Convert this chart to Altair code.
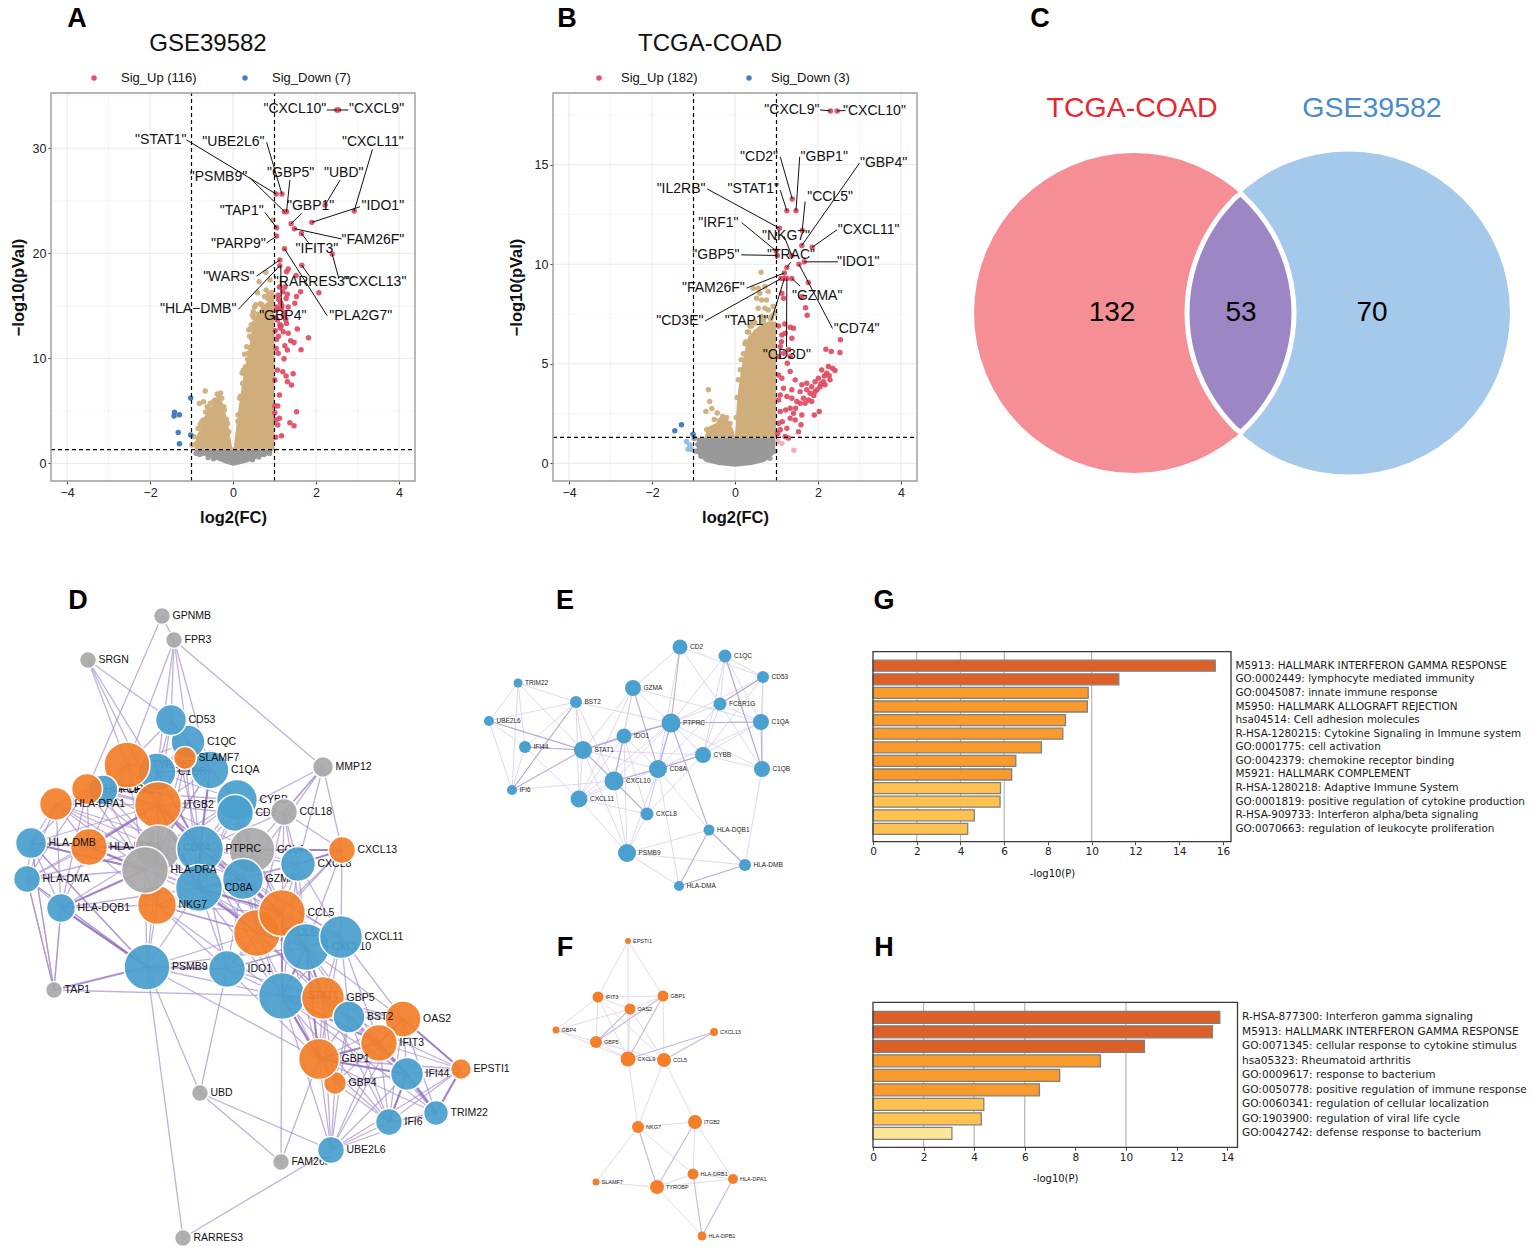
import altair as alt
import pandas as pd

W, H = 1519, 1239
SANS = "Liberation Sans"
MPL = "DejaVu Sans"
RED, BLUE, TAN, GREY = "#E04A62", "#3D77BC", "#CFAE7B", "#999999"
PALE_RED, PALE_BLUE = "#F5A9B5", "#8DBBE8"
BLUE_N, ORANGE_N, GREY_N = "#4AA0CE", "#F47F2B", "#A9A9A9"

# ---------- Panel A values
a_red_x = [2.54,2.50,1.04,1.18,1.29,1.24,2.22,2.92,1.90,1.40,1.05,1.48,1.65,1.05,1.24,2.39,1.66,1.13,1.13,1.17,
 1.33,1.29,1.52,1.63,2.07,1.12,1.25,1.20,1.31,1.09,1.53,1.28,1.15,1.49,1.33,1.05,1.25,1.07,1.29,1.13,1.55,1.02,1.21,1.33,
 1.05,1.82,1.39,1.47,1.31,1.04,1.09,1.64,1.23,1.07,1.20,1.45,1.28,1.01,1.31,1.41,1.12,1.01,1.08,1.53,1.01,1.12,1.04,1.37,1.47,1.17,1.03,1.08,
 1.10,1.18,1.22,1.27,1.03,1.16,1.10,1.25,1.06,1.14]
a_red_y = [33.65,33.65,25.65,25.65,23.97,23.97,24.6,24.03,22.95,22.83,22.44,22.35,21.9,21.65,20.44,19.94,18.86,19.37,18.83,14.76,
 18.5,18.25,17.9,16.35,16.25,16.8,16.8,16.35,16.1,16.0,15.9,15.7,15.3,15.24,14.9,14.6,14.35,13.65,13.33,13.2,12.8,12.63,12.54,12.38,
 11.8,11.97,11.68,11.52,10.8,10.95,10.48,10.83,9.97,8.89,8.73,8.54,8.32,7.94,7.78,7.46,6.51,5.46,5.46,4.92,4.83,4.29,4.13,3.87,3.59,2.63,2.48,3.65,
 15.6,15.0,14.0,13.7,13.9,13.1,12.1,11.2,14.9,12.9]
a_blue_x = [-1.02,-1.41,-1.42,-1.29,-1.32,-1.02,-1.29]
a_blue_y = [6.22,4.86,4.51,4.63,2.95,2.7,1.87]
a_tan_x = [-0.67,-0.81,-0.71,-0.34,-0.27,-0.43,-0.59,-0.51,-0.71,-0.84,-0.94,-0.88,-0.99,-0.21,0.96,0.79,0.63,0.89,0.80,0.59,0.93,0.49,0.27,0.37,0.45,0.65,
 0.35,0.42,0.52,0.60,0.72,0.84,0.93,0.97,0.30,0.40,0.50,0.70,0.23,0.18,0.12,-0.62,-0.75,-0.55,-0.38,-0.16,-0.10,
 0.33,0.38,0.44,0.28,0.22,0.16,0.55,0.47,0.41,0.31,0.25,0.12,0.66,0.76,0.86,0.52,-0.79,-0.66,-0.47,-0.30,-0.22,-0.13]
a_tan_y = [6.89,5.71,5.87,6.41,6.19,6.03,5.24,4.92,4.13,3.33,2.54,1.9,1.75,5.08,23.17,18.19,17.3,17.46,16.5,16.25,15.7,14.44,8.57,10.48,11.9,13.65,
 9.9,11.0,13.4,14.2,14.9,15.7,16.3,15.9,9.2,12.1,13.9,15.1,7.6,6.4,4.6,5.4,4.0,5.7,6.6,4.2,3.0,
 11.1,12.7,13.2,10.4,8.6,6.2,15.1,14.1,12.8,9.0,8.9,4.0,15.2,15.9,16.1,14.9,3.7,4.9,5.9,6.7,5.4,3.8]
a_tan_env_x = [-0.93,-0.88,-0.8,-0.7,-0.6,-0.5,-0.4,-0.33,-0.25,-0.18,-0.12,-0.07,-0.02,0.02,0.05,0.09,0.14,0.2,0.26,0.33,0.41,0.46,0.55,0.65,0.8,0.93,1.0]
a_tan_env_y = [1.5,2.6,3.2,4.4,5.0,5.5,6.2,6.4,5.8,4.8,3.8,2.6,1.5,1.5,2.6,3.8,5.4,7.0,8.5,9.8,11.5,13.0,13.9,14.6,15.3,15.8,16.0]
a_grey_env_x = [-0.92,-0.7,-0.4,-0.2,0.0,0.15,0.35,0.6,0.9,0.96]
a_grey_env_y = [1.1,0.8,0.35,0.0,-0.22,-0.1,0.1,0.5,0.9,1.2]
a_grey_x = [-0.89,-0.8,-0.72,-0.6,-0.47,0.47,0.62,0.75,0.88]
a_grey_y = [0.95,0.85,0.95,0.55,0.45,0.35,0.6,0.85,0.95]
a_lab = ['"CXCL10"','"CXCL9"','"STAT1"','"UBE2L6"','"CXCL11"','"GBP5"','"UBD"','"PSMB9"','"GBP1"','"IDO1"','"TAP1"','"FAM26F"','"PARP9"','"IFIT3"','"WARS"','"RARRES3"','"CXCL13"','"HLA−DMB"','"GBP4"','"PLA2G7"']
a_lab_x = [1.49,3.46,-1.74,0.01,3.37,1.39,2.67,-0.35,1.87,3.61,0.21,3.37,0.13,2.02,-0.1,1.9,3.42,-0.84,1.2,3.08]
a_lab_y = [33.7,33.7,30.8,30.57,30.57,27.62,27.62,27.24,24.48,24.48,24.06,21.3,20.92,20.38,17.75,17.24,17.24,14.67,14.06,14.06]
a_seg_x  = [2.26,2.78,-1.12,0.81,3.36,1.37,2.58,0.39,1.65,3.06,0.77,2.62,0.81,1.82,0.57,1.84,2.55,0.13,1.17,2.27]
a_seg_y  = [33.65,33.65,30.8,30.57,29.9,26.98,26.98,27.24,23.8,24.44,23.9,21.37,21.0,21.0,17.84,17.84,17.62,14.67,14.76,14.06]
a_seg_x2 = [2.5,2.54,1.04,1.18,2.92,1.29,2.22,1.24,1.40,1.90,1.05,1.48,1.05,1.65,1.13,1.66,2.39,1.13,1.15,1.24]
a_seg_y2 = [33.65,33.65,25.65,25.65,24.03,23.97,24.6,23.97,22.83,22.95,22.44,22.35,21.65,21.9,19.37,18.86,19.94,18.83,18.83,20.44]

# ---------- Panel B values
b_red_x = [2.30,2.46,1.38,1.47,1.25,1.07,1.62,1.61,1.86,0.99,1.02,1.37,1.67,1.54,1.25,1.19,1.11,1.19,1.25,1.37,
 1.77,1.13,1.17,1.61,1.70,1.74,1.05,1.33,1.41,1.21,1.37,1.13,2.54,2.19,2.32,2.53,1.09,1.29,1.17,1.05,1.33,1.26,1.33,1.05,1.13,1.45,
 2.25,2.35,2.41,2.09,2.21,2.15,2.01,2.29,2.13,1.93,1.73,1.61,1.85,2.05,2.17,1.73,1.57,1.81,1.93,1.37,1.17,1.09,1.25,1.37,1.65,1.77,1.49,1.85,1.57,1.69,1.05,
 1.33,1.46,1.22,1.41,2.03,1.91,1.61,1.09,1.33,1.45,1.14,1.05,1.59,1.25,1.09,1.53,1.21,1.29,1.03,1.12,1.20,1.90,1.98,2.27,2.07]
b_red_y = [17.7,17.7,13.28,12.68,12.68,11.81,11.69,10.94,10.85,10.67,10.44,10.44,10.12,10.0,9.83,9.56,9.28,9.28,9.28,9.28,
 9.08,8.54,8.29,8.38,7.81,7.44,6.9,6.83,6.78,6.53,6.28,6.45,6.2,5.73,5.61,5.56,5.86,5.7,5.53,5.36,5.36,5.03,4.61,4.44,4.27,4.19,
 4.86,4.77,4.66,4.69,4.52,4.39,4.27,4.19,4.1,4.1,4.02,3.94,3.85,3.85,3.94,3.69,3.6,3.52,3.6,3.69,3.77,3.43,3.35,3.27,3.27,3.18,3.1,3.1,3.02,3.02,3.18,
 2.76,2.76,2.68,2.51,2.6,2.43,2.43,2.6,2.26,2.18,2.09,2.01,1.93,1.76,1.68,1.59,1.34,1.27,1.5,6.1,7.0,3.4,3.7,4.4,4.0]
b_pale_red_x = [1.13,1.03,1.42]
b_pale_red_y = [1.0,1.09,0.65]
b_blue_x = [-1.29,-1.45,-1.01]
b_blue_y = [1.93,1.64,1.46]
b_pale_blue_x = [-1.17,-1.09,-1.13,-1.05]
b_pale_blue_y = [1.09,0.92,0.7,0.7]
b_tan_x = [0.63,0.44,0.56,0.72,0.80,0.60,0.52,0.76,0.64,0.92,0.72,0.56,0.80,0.96,0.64,0.88,0.48,0.68,-0.64,-0.61,-0.70,-0.56,-0.43,-0.37,-0.30,-0.2,-0.5,-0.12,0.15,0.24,0.30,0.36,0.42,0.5,-0.68,
 0.26,0.20,0.13,0.08,0.33,0.40,0.47,0.70,0.86,0.35,0.05,0.03]
b_tan_y = [9.6,8.79,8.79,8.88,8.63,8.54,8.29,8.2,8.2,7.87,7.79,7.79,7.7,7.54,7.37,7.37,7.04,7.12,3.69,3.1,2.6,2.75,2.53,2.15,2.35,2.3,2.2,2.0,5.2,6.0,6.6,6.9,7.05,6.6,1.7,
 6.1,5.5,4.7,4.2,6.6,6.9,7.1,7.3,7.25,5.9,3.3,2.3]
b_tan_env_x = [-0.74,-0.64,-0.48,-0.32,-0.16,-0.04,0.0,0.02,0.04,0.08,0.16,0.24,0.32,0.56,0.8,0.99]
b_tan_env_y = [1.3,1.84,2.0,2.26,2.18,1.68,1.34,2.0,2.85,3.69,4.86,5.7,6.37,6.87,7.12,7.12]
b_grey_env_x = [-0.92,-0.72,-0.4,0.0,0.4,0.72,0.97]
b_grey_env_y = [0.5,0.08,-0.08,-0.17,-0.08,0.08,0.5]
b_grey_x = [-0.98,-0.94,-0.9,-0.82,0.96,0.9,0.84]
b_grey_y = [1.25,0.6,0.95,0.35,0.6,0.95,0.25]
b_lab = ['"CXCL9"','"CXCL10"','"CD2"','"GBP1"','"GBP4"','"IL2RB"','"STAT1"','"CCL5"','"CXCL11"','"IRF1"','"NKG7"','"GBP5"','"TRAC"','"IDO1"','"FAM26F"','"GZMA"','"CD3E"','"TAP1"','"CD74"','"CD3D"']
b_lab_x = [1.37,3.36,0.58,2.15,3.58,-1.30,0.44,2.29,3.22,-0.40,1.23,-0.46,1.35,2.97,-0.52,1.98,-1.33,0.28,2.93,1.25]
b_lab_y = [17.76,17.72,15.4,15.4,15.08,13.78,13.78,13.4,11.73,12.09,11.44,10.44,10.44,10.12,8.79,8.41,7.15,7.15,6.77,5.44]
b_seg_x  = [2.05,2.66,1.09,1.56,3.0,-0.67,1.09,1.69,2.46,0.16,1.18,0.15,1.34,2.48,0.28,1.57,-0.72,0.88,2.35,1.24]
b_seg_y  = [17.75,17.72,15.4,15.4,15.08,13.78,13.72,13.15,11.73,12.09,11.4,10.47,10.1,10.12,8.8,8.9,7.15,7.2,6.77,5.85]
b_seg_x2 = [2.30,2.46,1.38,1.47,1.61,1.07,1.25,1.62,1.86,0.99,1.37,1.02,1.25,1.67,1.19,1.37,1.11,1.19,1.54,1.25]
b_seg_y2 = [17.7,17.7,13.28,12.68,10.94,11.81,12.68,11.69,10.85,10.67,10.44,10.44,9.83,10.12,9.56,9.28,9.28,9.28,10.0,9.28]

# ---------- Venn values
venn_x = [1134, 1348.5]
venn_d = [320, 323]
venn_c = ["#F58E95", "#A5C9EA"]
lens_y  = [193.5,197,203,213,233,253,273,293,313,333,353,373,393,413,423,429,432.5]
lens_xl = [1241,1236.1,1230.3,1221.7,1208.2,1198.6,1192,1188.2,1187,1188.2,1192,1198.6,1208.2,1221.7,1230.3,1236.1,1241]
lens_xr = [1241,1244.2,1250.2,1258.9,1272.6,1282.3,1288.9,1292.7,1294,1292.7,1288.9,1282.3,1272.6,1258.9,1250.2,1244.2,1241]

# ---------- Network D
D_NODES = [("GPNMB",162,616,17,"g"),("FPR3",174,640,17,"g"),("SRGN",88,660,17,"g"),("MMP12",323,767,21,"g"),
 ("C1QC",188,742,34,"b"),("CD53",171,720,31,"b"),("C1QB",157,772,38,"b"),("C1QA",210,770,38,"b"),("TYROBP",127,765,46,"o"),("SLAMF7",185,758,23,"o"),
 ("CYBB",237,800,41,"b"),("CD2",235,813,37,"b"),("CCL18",284,812,27,"g"),("FCER1G",103,790,30,"b"),("HLA-DPB1",87,789,31,"o"),("HLA-DPA1",56,804,33,"o"),
 ("ITGB2",158,805,47,"o"),("HLA-DMB",31,843,31,"b"),("HLA-DRB1",89,847,37,"o"),("CD74",158,848,46,"g"),("CCL4",252,850,46,"g"),("PTPRC",200,849,47,"b"),
 ("CXCL13",342,850,27,"o"),("CXCL8",298,864,35,"b"),("GZMA",243,879,41,"b"),("NKG7",157,905,39,"o"),("HLA-DRA",145,870,47,"g"),("CD8A",199,888,47,"b"),
 ("HLA-DMA",27,879,27,"b"),("HLA-DQB1",61,908,29,"b"),("CXCL9",257,933,47,"o"),("CCL5",282,913,47,"o"),("CXCL10",306,947,47,"b"),("CXCL11",341,937,43,"b"),
 ("PSMB9",147,967,46,"b"),("IDO1",227,969,37,"b"),("TAP1",54,990,17,"g"),("STAT1",282,996,47,"b"),("GBP5",323,998,43,"o"),("OAS2",403,1019,36,"o"),("BST2",349,1017,32,"b"),
 ("IFIT3",379,1043,37,"o"),("GBP4",335,1083,23,"o"),("GBP1",319,1059,41,"o"),("IFI44",407,1074,33,"b"),("EPSTI1",461,1069,21,"o"),("TRIM22",436,1113,25,"b"),
 ("IFI6",389,1122,27,"b"),("FAM26F",281,1162,17,"g"),("UBE2L6",331,1150,27,"b"),("UBD",200,1093,17,"g"),("RARRES3",183,1238,17,"g")]
D_BEHIND = ["HLA-DRB1","CD74","CXCL9","CXCL10","STAT1","TYROBP","C1QB","FCER1G","HLA-DPB1","CYBB","CD2","CCL4","CXCL8","GZMA","FAM26F"]
D_THIN = {
 "GPNMB":"FPR3 HLA-DPB1","FPR3":"MMP12 TYROBP C1QB CD53 C1QC C1QA","SRGN":"CD53 TYROBP C1QB ITGB2",
 "MMP12":"CCL18 CD2 CCL4 CXCL13 CXCL8 GZMA","CCL18":"CXCL13 CD2 PTPRC CXCL8 CCL5 CXCL9 CXCL10",
 "CXCL13":"CCL4 CCL5 CXCL9 CXCL10 CXCL11 CXCL8","TAP1":"HLA-DMA HLA-DMB HLA-DQB1 STAT1","UBD":"PSMB9 IDO1 UBE2L6 FAM26F",
 "FAM26F":"STAT1 GBP1","RARRES3":"PSMB9 UBE2L6",
 "PSMB9":"HLA-DMB HLA-DRA CD74 HLA-DQB1 HLA-DMA CD8A STAT1 GBP1 CXCL9 CXCL10 NKG7","IDO1":"CD8A CCL5 CXCL9 CXCL10 CXCL11 STAT1 GBP1 GBP5 NKG7 PTPRC GZMA",
 "CD53":"C1QC C1QA C1QB TYROBP SLAMF7 ITGB2 PTPRC CYBB","C1QC":"C1QA C1QB TYROBP ITGB2 PTPRC CD74","C1QA":"C1QB TYROBP ITGB2 PTPRC CD74 CYBB HLA-DRA",
 "C1QB":"TYROBP ITGB2 PTPRC CD74 CYBB HLA-DRA","SLAMF7":"TYROBP NKG7 CD8A","TYROBP":"ITGB2 HLA-DPB1 FCER1G HLA-DRA CD74 PTPRC HLA-DRB1",
 "FCER1G":"ITGB2 HLA-DRA HLA-DPA1 CD74 CYBB PTPRC","HLA-DPB1":"HLA-DPA1 HLA-DRB1 HLA-DRA CD74 HLA-DMB HLA-DMA HLA-DQB1 ITGB2",
 "HLA-DPA1":"HLA-DRB1 HLA-DRA CD74 HLA-DMB HLA-DMA HLA-DQB1 ITGB2 PTPRC CD8A","HLA-DMB":"HLA-DMA HLA-DQB1 HLA-DRB1 HLA-DRA CD74 ITGB2 TAP1 PSMB9",
 "HLA-DMA":"HLA-DQB1 HLA-DRB1 HLA-DRA CD74 TAP1 PSMB9 ITGB2","HLA-DQB1":"HLA-DRB1 HLA-DRA CD74 PSMB9 TAP1 NKG7 CD8A",
 "HLA-DRB1":"HLA-DRA CD74 ITGB2 PTPRC NKG7 CD8A","HLA-DRA":"CD74 ITGB2 PTPRC NKG7 CD8A CYBB CXCL10","CD74":"ITGB2 PTPRC CD8A CYBB CCL5 CXCL9 GZMA NKG7",
 "ITGB2":"PTPRC CYBB CD2 CD8A CCL5 NKG7 CCL4 GZMA","PTPRC":"CYBB CD2 CCL4 CD8A GZMA CCL5 CXCL9 CXCL10 CXCL11 CXCL8 STAT1",
 "CYBB":"CD2 CD8A CCL4 GZMA","CD2":"CD8A GZMA CCL5 CXCL9 CCL4","CCL4":"CCL5 CXCL8 CXCL9 CXCL10 GZMA","CXCL8":"CCL5 CXCL9 CXCL10 CXCL11 GZMA CD8A STAT1",
 "GZMA":"CD8A CCL5 CXCL9 CXCL10 NKG7 CXCL11","CD8A":"NKG7 CCL5 CXCL9 CXCL10 CXCL11 STAT1","NKG7":"CCL5 CXCL9 CXCL10 STAT1",
 "CCL5":"CXCL9 CXCL10 CXCL11 STAT1 GBP5 GBP1","CXCL9":"CXCL10 CXCL11 STAT1 GBP5 GBP1 BST2 IFIT3","CXCL10":"CXCL11 STAT1 GBP5 GBP1 OAS2 BST2 IFIT3",
 "CXCL11":"STAT1 GBP5 OAS2 IFIT3 GBP1 BST2","STAT1":"GBP5 BST2 OAS2 IFIT3 GBP1 GBP4 IFI44 IFI6 UBE2L6 TRIM22",
 "GBP5":"BST2 OAS2 IFIT3 GBP1 GBP4 IFI44 IFI6 UBE2L6","BST2":"OAS2 IFIT3 GBP1 GBP4 IFI44 IFI6 TRIM22 UBE2L6 EPSTI1",
 "OAS2":"IFIT3 GBP1 IFI44 IFI6 TRIM22 EPSTI1 UBE2L6","IFIT3":"GBP1 GBP4 IFI44 IFI6 TRIM22 EPSTI1 UBE2L6","GBP1":"GBP4 IFI44 IFI6 TRIM22 EPSTI1 UBE2L6",
 "GBP4":"IFI44 IFI6 UBE2L6","IFI44":"EPSTI1 IFI6 TRIM22 UBE2L6","EPSTI1":"IFI6 TRIM22 UBE2L6","TRIM22":"IFI6 UBE2L6","IFI6":"UBE2L6",
}
D_THICK = {
 "TAP1":"PSMB9","HLA-DQB1":"HLA-DRA PSMB9","PSMB9":"IDO1","HLA-DMB":"HLA-DRA","HLA-DRB1":"ITGB2 HLA-DRA CD74","ITGB2":"PTPRC CD8A","PTPRC":"CD8A CCL5",
 "CD8A":"CCL5 CXCL9 GZMA","GZMA":"CCL5","C1QA":"C1QB PTPRC","C1QB":"PTPRC","CXCL13":"CCL4 CXCL8","CCL5":"CXCL9 STAT1","CXCL10":"GBP5 STAT1 GBP1","STAT1":"GBP1 GBP5 IFIT3",
 "IFIT3":"IFI44 GBP1 OAS2","GBP1":"IFI44","IFI44":"TRIM22 IFI6","OAS2":"EPSTI1","EPSTI1":"TRIM22",
}

# ---------- Network E
E_NODES = [("CD2",680,647,15),("C1QC",725,656,13),("CD53",763,677,12),("GZMA",633,688,16),("FCER1G",720,704,13),("TRIM22",518,683,9),("BST2",576,702,12),
 ("UBE2L6",489,721,10),("PTPRC",671,723,19),("C1QA",761,722,16),("IDO1",624,736,15),("IFI44",525,747,12),("STAT1",583,750,18),("CYBB",703,755,16),("C1QB",762,769,16),
 ("CD8A",658,769,18),("CXCL10",614,781,19),("IFI6",512,790,10),("CXCL11",579,799,17),("CXCL8",647,814,13),("HLA-DQB1",709,830,11),("PSMB9",627,853,18),("HLA-DMB",745,865,12),("HLA-DMA",679,886,10)]
E_THIN = {"CD2":"GZMA CD8A CD53 FCER1G","C1QC":"CD53 FCER1G C1QA C1QB PTPRC CYBB","CD53":"FCER1G C1QA C1QB PTPRC CYBB","FCER1G":"PTPRC C1QA C1QB CYBB CD8A",
 "C1QA":"PTPRC CYBB CD8A","C1QB":"PTPRC CYBB HLA-DMB","GZMA":"IDO1 PTPRC STAT1 CXCL10 CXCL11 C1QA","TRIM22":"BST2 UBE2L6 IFI44 IFI6 STAT1",
 "BST2":"UBE2L6 IFI44 IFI6 STAT1 PTPRC CXCL10 CXCL11","UBE2L6":"IFI44 IFI6 STAT1","IFI44":"IFI6 STAT1 CXCL11","IFI6":"CXCL10","STAT1":"CD8A CXCL11 CXCL8 CYBB PSMB9",
 "IDO1":"CD8A CXCL10 CXCL11 CXCL8 PSMB9","PTPRC":"CYBB CXCL10 CXCL11 CXCL8","CYBB":"CD8A CXCL10 CXCL8","CD8A":"CXCL11 CXCL8 PSMB9 HLA-DQB1 HLA-DMA","CXCL10":"CXCL11 PSMB9","CXCL11":"CXCL8 PSMB9",
 "CXCL8":"PSMB9","HLA-DQB1":"PSMB9","PSMB9":"HLA-DMB HLA-DMA"}
E_THICK = {"CD2":"PTPRC","GZMA":"CD8A","C1QC":"C1QB","CD53":"FCER1G","C1QA":"C1QB","PTPRC":"IDO1 CD8A C1QA HLA-DQB1","STAT1":"IDO1 PTPRC CXCL10 IFI6","BST2":"IFI6","UBE2L6":"STAT1","IFI44":"STAT1",
 "CD8A":"CXCL10 CYBB","CXCL10":"CXCL8","IDO1":"CXCL10","HLA-DQB1":"HLA-DMB HLA-DMA","HLA-DMB":"HLA-DMA"}

# ---------- Network F
F_NODES = [("EPSTI1",628,941,6),("IFIT3",598,997,11),("GBP1",663,996,11),("OAS2",630,1009,11),("GBP4",556,1030,7),("CXCL13",714,1032,8),("GBP5",596,1042,12),("CXCL9",628,1059,15),("CCL5",664,1060,14),
 ("NKG7",638,1127,12),("ITGB2",695,1122,14),("HLA-DRB1",693,1174,11),("HLA-DPA1",733,1179,10),("SLAMF7",596,1182,7),("TYROBP",657,1187,14),("HLA-DPB1",702,1236,9)]
F_THIN = {"EPSTI1":"IFIT3 CXCL9 GBP1","IFIT3":"GBP1 OAS2 GBP4 GBP5 CXCL9 CCL5","GBP1":"OAS2 CCL5","OAS2":"GBP4 CXCL9 CCL5","GBP4":"GBP5 CXCL9","GBP5":"CXCL9 CCL5","CXCL9":"CCL5 NKG7",
 "CCL5":"NKG7 ITGB2","NKG7":"ITGB2 SLAMF7 HLA-DRB1","ITGB2":"HLA-DRB1 HLA-DPA1","HLA-DRB1":"TYROBP HLA-DPA1","HLA-DPA1":"TYROBP","SLAMF7":"TYROBP","TYROBP":"HLA-DPB1"}
F_THICK = {"GBP1":"GBP5 CXCL9","OAS2":"GBP5","CXCL9":"CXCL13","CCL5":"CXCL13","NKG7":"TYROBP","ITGB2":"TYROBP","HLA-DRB1":"HLA-DPB1","HLA-DPA1":"HLA-DPB1"}

# ---------- Bars
g_terms = ["M5913: HALLMARK INTERFERON GAMMA RESPONSE","GO:0002449: lymphocyte mediated immunity","GO:0045087: innate immune response","M5950: HALLMARK ALLOGRAFT REJECTION",
 "hsa04514: Cell adhesion molecules","R-HSA-1280215: Cytokine Signaling in Immune system","GO:0001775: cell activation","GO:0042379: chemokine receptor binding","M5921: HALLMARK COMPLEMENT",
 "R-HSA-1280218: Adaptive Immune System","GO:0001819: positive regulation of cytokine production","R-HSA-909733: Interferon alpha/beta signaling","GO:0070663: regulation of leukocyte proliferation"]
g_vals = [15.65,11.24,9.84,9.8,8.8,8.68,7.7,6.53,6.34,5.83,5.81,4.63,4.33]
g_cols = ["#DC6027","#DC6027","#F99A2C","#F99A2C","#F99A2C","#F99A2C","#F99A2C","#F99A2C","#F99A2C","#FFC14F","#FFC14F","#FFC14F","#FFC14F"]
h_terms = ["R-HSA-877300: Interferon gamma signaling","M5913: HALLMARK INTERFERON GAMMA RESPONSE","GO:0071345: cellular response to cytokine stimulus","hsa05323: Rheumatoid arthritis",
 "GO:0009617: response to bacterium","GO:0050778: positive regulation of immune response","GO:0060341: regulation of cellular localization","GO:1903900: regulation of viral life cycle","GO:0042742: defense response to bacterium"]
h_vals = [13.71,13.42,10.73,8.99,7.38,6.58,4.38,4.28,3.12]
h_cols = ["#DC6027","#DC6027","#DC6027","#F99A2C","#F99A2C","#F99A2C","#FFC14F","#FFC14F","#FDE696"]
bar_grid = [2,4,6,10]

PANELS = {
 "A": dict(x=([-4.386,4.386],(51,415)), y=([-1.68,35.27],(481,93))),
 "B": dict(x=([-4.386,4.386],(553,917)), y=([-0.89,18.6],(481,93))),
 "P": dict(x=([0,1535],(0,1535)), y=([0,1255],(0,1255))),
 "G": dict(x=([0,16.37],(873,1231)), y=([0,1],(841.7,651.7))),
 "H": dict(x=([0,14.41],(873,1237.5)), y=([0,1],(1147.3,1002.3))),
}

def sc(p, ch):
    dom, rng = PANELS[p][ch]
    return alt.Scale(domain=list(dom), range=[rng[0]-8, rng[1]-8], nice=False, zero=False)

def X(p, f="x", axis=None):
    return alt.X(f"{f}:Q", scale=sc(p, "x"), axis=axis, title=None)

def Y(p, f="y", axis=None):
    return alt.Y(f"{f}:Q", scale=sc(p, "y"), axis=axis, title=None)

def pts(p, xs, ys, color, size=30, opacity=0.95):
    d = pd.DataFrame({"x": xs, "y": ys})
    return alt.Chart(d).mark_circle(color=color, size=size, opacity=opacity).encode(x=X(p), y=Y(p))

def segs(p, x, y, x2, y2, color="#000000", w=1.0, dash=None, opacity=1.0):
    d = pd.DataFrame({"x": x, "y": y, "x2": x2, "y2": y2})
    kw = dict(color=color, strokeWidth=w, opacity=opacity)
    if dash:
        kw["strokeDash"] = dash
    return alt.Chart(d).mark_rule(**kw).encode(x=X(p), y=Y(p), x2=alt.X2("x2:Q"), y2=alt.Y2("y2:Q"))

def txt(p, xs, ys, labels, size, font=SANS, color="#111111", align="center", weight="normal", baseline="middle"):
    d = pd.DataFrame({"x": xs, "y": ys, "t": labels})
    return alt.Chart(d).mark_text(font=font, fontSize=size, color=color, align=align, fontWeight=weight, baseline=baseline).encode(x=X(p), y=Y(p), text="t:N")

def frame(p, color, w):
    (xd, _), (yd, _) = PANELS[p]["x"], PANELS[p]["y"]
    d = pd.DataFrame({"x": [xd[0]], "x2": [xd[1]], "y": [yd[0]], "y2": [yd[1]]})
    return alt.Chart(d).mark_rect(fillOpacity=0, stroke=color, strokeWidth=w).encode(x=X(p), y=Y(p), x2=alt.X2("x2:Q"), y2=alt.Y2("y2:Q"))

def vgrid(p, vals, color, w=1.0, dash=None):
    yd = PANELS[p]["y"][0]
    return segs(p, vals, [yd[0]]*len(vals), vals, [yd[1]]*len(vals), color, w, dash)

def hgrid(p, vals, color, w=1.0, dash=None):
    xd = PANELS[p]["x"][0]
    return segs(p, [xd[0]]*len(vals), vals, [xd[1]]*len(vals), vals, color, w, dash)

def axes(p, xvals, yvals, xtitle, ytitle, font=SANS, lsize=12.5, tsize=16.5, tweight="bold", labelcolor="#222222", ypad=10, xpad=11):
    (xd, xr), (yd, yr) = PANELS[p]["x"], PANELS[p]["y"]
    d = pd.DataFrame({"x": [xd[0]], "y": [yd[0]]})
    common = dict(domain=False, grid=False, labelFont=font, labelFontSize=lsize, labelColor=labelcolor, tickColor="#444444", tickSize=3, labelPadding=2,
                  titleFont=font, titleFontSize=tsize, titleFontWeight=tweight, titleColor="#111111", labelOverlap=False, labelFlush=False)
    ax = alt.Axis(orient="bottom", offset=(yr[0]-8)-H, values=xvals, title=xtitle, titlePadding=xpad, **common)
    if yvals:
        ay = alt.Axis(orient="left", offset=-(xr[0]-8), values=yvals, title=ytitle, titlePadding=ypad, **common)
    else:
        ay = None
    return alt.Chart(d).mark_point(opacity=0).encode(x=X(p, axis=ax), y=Y(p, axis=ay))

def volcano(p, red, blue, tan_pts, tan_env, grey_env, grey_pts, labs, seg, vt, minor_y, hline, extras=()):
    L = [vgrid(p, [-3,-1,1,3], "#F3F3F3", 0.8), hgrid(p, minor_y, "#F3F3F3", 0.8),
         vgrid(p, [-4,-2,0,2,4], "#E9E9E9", 1), hgrid(p, vt, "#E9E9E9", 1)]
    ge = pd.DataFrame({"x": grey_env[0], "y": grey_env[1], "y2": [hline]*len(grey_env[0])})
    L.append(alt.Chart(ge).mark_area(color=GREY, orient="vertical").encode(x=X(p), y=Y(p), y2=alt.Y2("y2:Q")))
    L.append(pts(p, grey_pts[0], grey_pts[1], GREY))
    te = pd.DataFrame({"x": tan_env[0], "y": tan_env[1], "y2": [hline]*len(tan_env[0])})
    L.append(alt.Chart(te).mark_area(color=TAN, orient="vertical").encode(x=X(p), y=Y(p), y2=alt.Y2("y2:Q")))
    L.append(pts(p, tan_pts[0], tan_pts[1], TAN))
    for e in extras:
        L.append(e)
    L.append(pts(p, red[0], red[1], RED, opacity=0.92))
    L.append(pts(p, blue[0], blue[1], BLUE))
    L.append(vgrid(p, [-1,1], "#000000", 1.2, [4,3]))
    L.append(hgrid(p, [hline], "#000000", 1.2, [4,3]))
    L.append(segs(p, *seg, "#111111", 1.0))
    L.append(txt(p, labs[1], labs[2], labs[0], 14))
    L.append(frame(p, "#9C9C9C", 1.4))
    return L

def edge_df(nodes, adj):
    pos = {n[0]: (n[1], n[2]) for n in nodes}
    rows = []
    for a, targets in adj.items():
        for b in targets.split():
            rows.append((pos[a][0], pos[a][1], pos[b][0], pos[b][1]))
    return pd.DataFrame(rows, columns=["x", "y", "x2", "y2"])

def net_edges(nodes, thin, thick, thin_c, thick_c, w1, w2, o1, o2):
    out = []
    for adj, c, w, o in ((thin, thin_c, w1, o1), (thick, thick_c, w2, o2)):
        d = edge_df(nodes, adj)
        out.append(segs("P", d.x.tolist(), d.y.tolist(), d.x2.tolist(), d.y2.tolist(), c, w, None, o))
    return out

def node_layer(xs, ys, ds, cs, sw, op):
    d = pd.DataFrame({"x": xs, "y": ys, "s": [v*v for v in ds], "c": cs})
    return alt.Chart(d).mark_point(filled=True, shape="circle", stroke="#FFFFFF", strokeWidth=sw, opacity=op).encode(
        x=X("P"), y=Y("P"), size=alt.Size("s:Q", scale=None, legend=None), fill=alt.Fill("c:N", scale=None, legend=None))

COL = {"b": BLUE_N, "o": ORANGE_N, "g": GREY_N}
layers = []

# Volcanos
layers += volcano("A", (a_red_x, a_red_y), (a_blue_x, a_blue_y), (a_tan_x, a_tan_y), (a_tan_env_x, a_tan_env_y),
                  (a_grey_env_x, a_grey_env_y), (a_grey_x, a_grey_y), (a_lab, a_lab_x, a_lab_y),
                  (a_seg_x, a_seg_y, a_seg_x2, a_seg_y2), [0,10,20,30], [5,15,25,35], 1.3)
layers.append(axes("A", [-4,-2,0,2,4], [0,10,20,30], "log2(FC)", "−log10(pVal)", ypad=6))
b_extra = [pts("B", b_pale_red_x, b_pale_red_y, PALE_RED), pts("B", b_pale_blue_x, b_pale_blue_y, PALE_BLUE)]
layers += volcano("B", (b_red_x, b_red_y), (b_blue_x, b_blue_y), (b_tan_x, b_tan_y), (b_tan_env_x, b_tan_env_y),
                  (b_grey_env_x, b_grey_env_y), (b_grey_x, b_grey_y), (b_lab, b_lab_x, b_lab_y),
                  (b_seg_x, b_seg_y, b_seg_x2, b_seg_y2), [0,5,10,15], [2.5,7.5,12.5,17.5], 1.3, extras=b_extra)
layers.append(axes("B", [-4,-2,0,2,4], [0,5,10,15], "log2(FC)", "−log10(pVal)", ypad=10))

# Volcano legends & titles, panel letters
layers.append(pts("P", [94,599], [78,78], RED, 30))
layers.append(pts("P", [245,749], [78,78], BLUE, 30))
layers.append(txt("P", [121,272,621,771], [78,78,78,78], ["Sig_Up (116)","Sig_Down (7)","Sig_Up (182)","Sig_Down (3)"], 13, align="left"))
layers.append(txt("P", [208,710], [44,44], ["GSE39582","TCGA-COAD"], 24))
layers.append(txt("P", [77,567,1040,78,565,565,884,884], [19,19,19,601,601,948,601,948], list("ABCDEFGH"), 27, color="#000000", weight="bold"))

# Venn
vd = pd.DataFrame({"x": venn_x, "y": [313,313], "s": [v*v for v in venn_d], "c": venn_c})
layers.append(alt.Chart(vd).mark_point(filled=True, shape="circle", opacity=1, strokeWidth=0).encode(
    x=X("P"), y=Y("P"), size=alt.Size("s:Q", scale=None, legend=None), fill=alt.Fill("c:N", scale=None, legend=None)))
ld = pd.DataFrame({"y": lens_y, "x": lens_xl, "x2": lens_xr})
layers.append(alt.Chart(ld).mark_area(color="#9C86C3", stroke="#FFFFFF", strokeWidth=5, orient="horizontal", interpolate="monotone").encode(
    x=X("P"), y=Y("P"), x2=alt.X2("x2:Q")))
layers.append(txt("P", [1132], [108], ["TCGA-COAD"], 28.5, color="#E8262F"))
layers.append(txt("P", [1372], [108], ["GSE39582"], 28.5, color="#4A8CCB"))
layers.append(txt("P", [1112,1241,1372], [313,313,313], ["132","53","70"], 28, color="#000000"))

# Network D
layers += net_edges(D_NODES, D_THIN, D_THICK, "#A78FCB", "#8F6FBE", 1.3, 2.2, 0.7, 0.75)
def nlabels(nodes, size, pad, color="#111111"):
    return txt("P", [n[1]+n[3]/2+pad for n in nodes], [n[2] for n in nodes], [n[0] for n in nodes], size, color=color, align="left")
behind = [n for n in D_NODES if n[0] in D_BEHIND]
front = [n for n in D_NODES if n[0] not in D_BEHIND]
layers.append(nlabels(behind, 10.5, 2))
layers.append(node_layer([n[1] for n in D_NODES], [n[2] for n in D_NODES], [n[3] for n in D_NODES], [COL[n[4]] for n in D_NODES], 1.6, 0.93))
layers.append(nlabels(front, 10.5, 2))

# Networks E, F
layers += net_edges(E_NODES, E_THIN, E_THICK, "#D8CFE9", "#B5A2D4", 0.9, 1.1, 0.9, 0.9)
layers.append(node_layer([n[1] for n in E_NODES], [n[2] for n in E_NODES], [n[3] for n in E_NODES], [BLUE_N]*len(E_NODES), 0, 1))
layers.append(nlabels(E_NODES, 6.5, 2.5, "#222222"))
layers += net_edges(F_NODES, F_THIN, F_THICK, "#DAD2E9", "#BFAEDA", 0.9, 1.1, 0.9, 0.9)
layers.append(node_layer([n[1] for n in F_NODES], [n[2] for n in F_NODES], [n[3] for n in F_NODES], [ORANGE_N]*len(F_NODES), 0, 1))
layers.append(nlabels(F_NODES, 5.5, 2, "#222222"))

# Bar panels
def bars(p, terms, vals, cols, band, inner, xvals, text_size, right_x):
    out = [vgrid(p, bar_grid, "#B4B4B4", 1.2)]
    d = pd.DataFrame({"term": terms, "v": vals, "c": cols})
    ay = alt.Axis(orient="right", offset=(right_x-8)-W, domain=False, ticks=False, grid=False, title=None, labelFont=MPL, labelFontSize=text_size,
                  labelColor="#1A1A1A", labelLimit=500, labelPadding=4, labelOverlap=False, labelAlign="left")
    out.append(alt.Chart(d).mark_bar(stroke="#808080", strokeWidth=1.3).encode(
        x=X(p, "v"), y=alt.Y("term:N", sort=None, axis=ay, title=None,
                            scale=alt.Scale(domain=terms, range=[band[0]-8, band[1]-8], paddingInner=inner, paddingOuter=0)),
        fill=alt.Fill("c:N", scale=None, legend=None)))
    out.append(frame(p, "#3A3A3A", 1.3))
    out.append(axes(p, xvals, None, "-log10(P)", None, font=MPL, lsize=10.5, tsize=10, tweight="normal"))
    return out

layers += bars("G", g_terms, g_vals, g_cols, (660.2,834.4), 0.19, list(range(0,17,2)), 10.4, 1231)
layers += bars("H", h_terms, h_vals, h_cols, (1011.3,1139.3), 0.172, list(range(0,15,2)), 10.6, 1237.5)

chart = alt.layer(*layers).resolve_scale(x="independent", y="independent", size="independent", fill="independent").properties(
    width=W, height=H, padding=0, autosize=alt.AutoSizeParams(type="none"), background="#FFFFFF"
).configure_view(stroke=None)

chart.save("out.html", embed_options={"renderer": "svg", "actions": False})
